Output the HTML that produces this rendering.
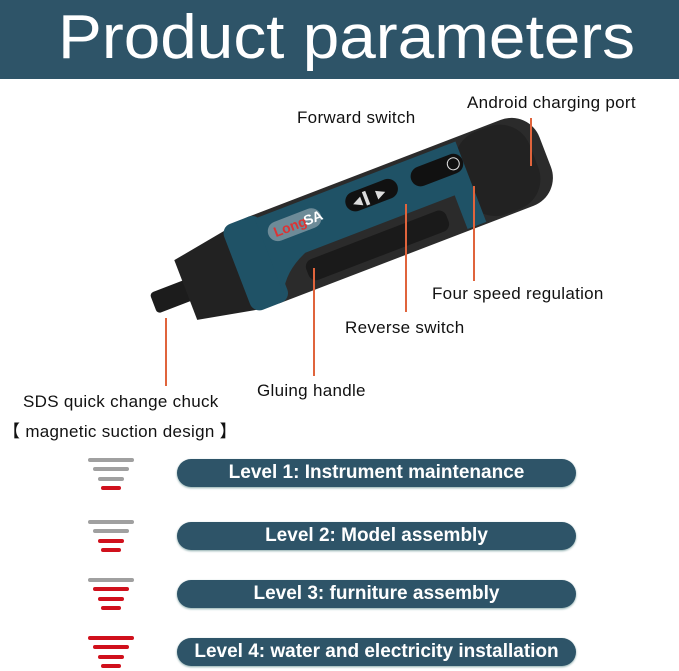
<!DOCTYPE html>
<html><head><style>
body{margin:0;width:679px;height:671px;background:#fff;overflow:hidden;position:relative;font-family:"Liberation Sans",sans-serif}
.lbl{position:absolute;font-size:17px;color:#111;white-space:nowrap;letter-spacing:0.3px}
.pill{position:absolute;left:177px;width:399px;height:28px;border-radius:14px;background:#2e5468;color:#fff;font-weight:bold;font-size:19px;text-align:center;line-height:28px;box-shadow:0 1px 2px #8aa}
.ln{position:absolute;width:2px;background:#e0643c}
</style></head><body>
<div style="position:absolute;left:0;top:0;width:679px;height:79px;background:#2e5468"></div>
<svg style="position:absolute;left:0;top:0" width="679" height="90">
<text x="58" y="58" fill="#fff" font-family="Liberation Sans, sans-serif" font-size="62" textLength="577" lengthAdjust="spacingAndGlyphs">Product parameters</text>
</svg>
<svg style="position:absolute;left:0;top:0" width="679" height="440">
<g transform="rotate(-21 337 232)">
 <rect x="140" y="222" width="40" height="22" rx="4" fill="#1c1c1c"/>
 <path d="M175 200 L235 190 L235 276 L175 264 Z" fill="#222"/>
 <rect x="230" y="186" width="330" height="92" rx="30" fill="#2b2b2b"/>
 <rect x="230" y="186" width="40" height="92" rx="10" fill="#1f5266"/>
 <path d="M265 190 L470 190 Q480 230 470 240 L300 240 Q275 250 265 270 Z" fill="#1f5266"/>
 <rect x="470" y="188" width="78" height="88" rx="32" fill="#222"/>
 <rect x="460" y="190" width="20" height="86" fill="#1f5266"/>
 <rect x="272" y="200" width="56" height="20" rx="10" fill="#6d8b98"/>
 <text x="278" y="215" font-size="14" font-weight="bold" fill="#d33" font-family="Liberation Sans">Long</text>
 <text x="310" y="215" font-size="14" font-weight="bold" fill="#fff" font-family="Liberation Sans">SA</text>
 <rect x="355" y="200" width="55" height="20" rx="10" fill="#111"/>
 <text x="362" y="215" font-size="12" fill="#ddd">◀ ▍ ▶</text>
 <rect x="425" y="200" width="55" height="20" rx="10" fill="#111"/>
 <circle cx="470" cy="210" r="6" fill="none" stroke="#ddd" stroke-width="1"/>
 <rect x="295" y="248" width="150" height="22" rx="8" fill="#1a1a1a"/>
</g>
</svg>
<div class="ln" style="left:530px;top:118px;height:48px"></div>
<div class="ln" style="left:473px;top:186px;height:95px"></div>
<div class="ln" style="left:405px;top:204px;height:108px"></div>
<div class="ln" style="left:313px;top:268px;height:108px"></div>
<div class="ln" style="left:165px;top:318px;height:68px"></div>
<div class="lbl" style="left:467px;top:93px">Android charging port</div>
<div class="lbl" style="left:297px;top:108px">Forward switch</div>
<div class="lbl" style="left:432px;top:284px">Four speed regulation</div>
<div class="lbl" style="left:345px;top:318px">Reverse switch</div>
<div class="lbl" style="left:257px;top:381px">Gluing handle</div>
<div class="lbl" style="left:23px;top:392px">SDS quick change chuck</div>
<div class="lbl" style="left:3px;top:417px">【 magnetic suction design 】</div>
<svg style="position:absolute;left:85px;top:455px" width="60" height="216" stroke-linecap="round" stroke-width="4">
 <g><line x1="5" y1="5" x2="47" y2="5" stroke="#a0a0a0"/><line x1="10" y1="14" x2="42" y2="14" stroke="#a0a0a0"/><line x1="15" y1="24" x2="37" y2="24" stroke="#a0a0a0"/><line x1="18" y1="33" x2="34" y2="33" stroke="#d0101c"/></g>
 <g transform="translate(0,62)"><line x1="5" y1="5" x2="47" y2="5" stroke="#a0a0a0"/><line x1="10" y1="14" x2="42" y2="14" stroke="#a0a0a0"/><line x1="15" y1="24" x2="37" y2="24" stroke="#d0101c"/><line x1="18" y1="33" x2="34" y2="33" stroke="#d0101c"/></g>
 <g transform="translate(0,120)"><line x1="5" y1="5" x2="47" y2="5" stroke="#a0a0a0"/><line x1="10" y1="14" x2="42" y2="14" stroke="#d0101c"/><line x1="15" y1="24" x2="37" y2="24" stroke="#d0101c"/><line x1="18" y1="33" x2="34" y2="33" stroke="#d0101c"/></g>
 <g transform="translate(0,178)"><line x1="5" y1="5" x2="47" y2="5" stroke="#d0101c"/><line x1="10" y1="14" x2="42" y2="14" stroke="#d0101c"/><line x1="15" y1="24" x2="37" y2="24" stroke="#d0101c"/><line x1="18" y1="33" x2="34" y2="33" stroke="#d0101c"/></g>
</svg>
<div class="pill" style="top:459px">Level 1: Instrument maintenance</div>
<div class="pill" style="top:522px">Level 2: Model assembly</div>
<div class="pill" style="top:580px">Level 3: furniture assembly</div>
<div class="pill" style="top:638px">Level 4: water and electricity installation</div>
</body></html>
